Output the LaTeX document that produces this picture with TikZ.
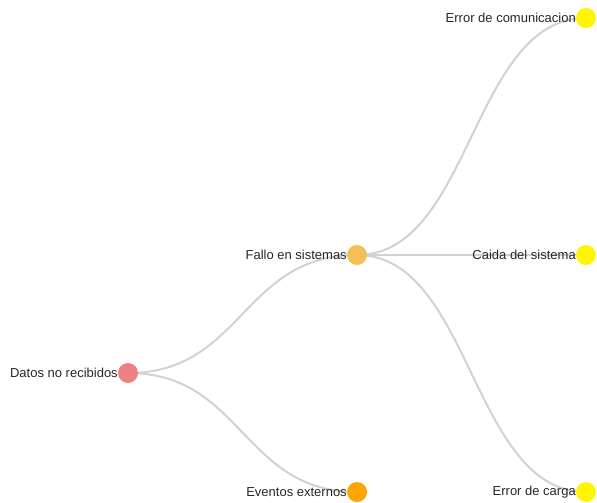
\documentclass[tikz,border=0pt]{standalone}
\usepackage{fontspec}
\setmainfont{Liberation Sans}
\usetikzlibrary{positioning,backgrounds}
\definecolor{rootcol}{HTML}{EE8080}
\definecolor{failcol}{HTML}{F5BF55}
\definecolor{eventcol}{HTML}{FFA500}
\definecolor{leafcol}{HTML}{FFF500}
\definecolor{linkcol}{HTML}{D2D2D2}

\begin{document}
\begin{tikzpicture}[x=1pt,y=-1pt,font=\fontsize{13}{15}\selectfont]
    \tikzstyle{dot}=[circle, inner sep=0pt, minimum size=20pt]
    \tikzstyle{tag}=[label distance=-3.5pt, text=black!85]
    \tikzstyle{link}=[draw=linkcol, line width=2pt]

    \useasboundingbox (0,0) rectangle (597,503);

    \node[dot,fill=rootcol,label={[tag]left:Datos no recibidos}] (datos) at (128,373) {};

    \node[dot,fill=failcol,label={[tag]left:Fallo en sistemas}] (fallo) at (357,255) {};
    \node[dot,fill=eventcol,label={[tag]left:Eventos externos}] (eventos) at (357,492) {};

    \node[dot,fill=leafcol,label={[tag]left:Error de comunicacion}] (comunic) at (586,18) {};
    \node[dot,fill=leafcol,label={[tag]left:Caida del sistema}] (caida) at (586,255) {};
    \node[dot,fill=leafcol,label={[tag]left:Error de carga}] (carga) at (586,492) {};

    \begin{scope}[on background layer]
        \draw[link] (datos.center) .. controls +(114.5,0) and +(-114.5,0) .. (fallo.center);
        \draw[link] (datos.center) .. controls +(114.5,0) and +(-114.5,0) .. (eventos.center);
        \draw[link] (fallo.center) .. controls +(114.5,0) and +(-114.5,0) .. (comunic.center);
        \draw[link] (fallo.center) .. controls +(114.5,0) and +(-114.5,0) .. (caida.center);
        \draw[link] (fallo.center) .. controls +(114.5,0) and +(-114.5,0) .. (carga.center);
    \end{scope}
\end{tikzpicture}
\end{document}
